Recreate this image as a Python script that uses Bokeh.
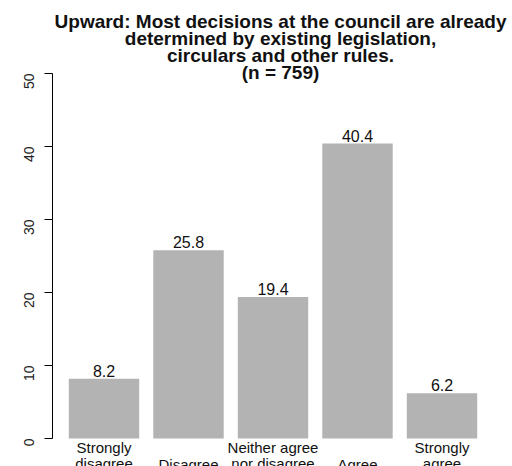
import math
from bokeh.plotting import figure
from bokeh.models import Range1d, Label, FixedTicker, ColumnDataSource
from bokeh.core.properties import value
from bokeh.embed import file_html
from bokeh.resources import INLINE

categories = ["Strongly\ndisagree", "Disagree", "Neither agree\nnor disagree", "Agree", "Strongly\nagree"]
percentages = [8.2, 25.8, 19.4, 40.4, 6.2]
value_labels = ["8.2", "25.8", "19.4", "40.4", "6.2"]
y_ticks = [0, 10, 20, 30, 40, 50]
title_lines = [
    "Upward: Most decisions at the council are already",
    "determined by existing legislation,",
    "circulars and other rules.",
    "(n = 759)",
]

FONT = "Liberation Sans"
W, H = 512, 466
LEFT = 52
PX_PER_BAR = 84.5          # spacing between bar centres (pixels)
FIRST_CENTER = 103.5       # pixel position of the first bar centre
x_start = (LEFT - FIRST_CENTER) / PX_PER_BAR
x_end = x_start + (W - LEFT) / PX_PER_BAR

p = figure(width=W, height=H, output_backend="svg", toolbar_location=None,
           x_axis_location=None,
           x_range=Range1d(x_start, x_end),
           y_range=Range1d(-(H - 438) / 7.3, 50 + 73 / 7.3),
           min_border_left=LEFT, min_border_right=0, min_border_top=0, min_border_bottom=0)
p.xgrid.visible = False
p.ygrid.visible = False
p.outline_line_color = None
p.background_fill_color = "white"
p.border_fill_color = "white"

yax = p.yaxis[0]
yax.ticker = FixedTicker(ticks=y_ticks)
yax.bounds = (0, 50)
yax.axis_line_color = "black"
yax.major_tick_line_color = "black"
yax.major_tick_out = 8
yax.major_tick_in = 0
yax.minor_tick_line_color = None
yax.major_label_orientation = math.pi / 2
yax.major_label_standoff = 16
yax.major_label_text_font = FONT
yax.major_label_text_font_size = "14px"
yax.major_label_text_color = "#222222"

src = ColumnDataSource(dict(pos=list(range(len(categories))), cat=categories,
                            val=percentages, lab=value_labels,
                            zero=[0] * len(categories)))

p.vbar(x="pos", top="val", width=1 / 1.2, source=src, fill_color="#B3B3B3", line_color=None)

p.text(x="pos", y="val", text="lab", source=src, text_align="center",
       text_baseline="bottom", y_offset=-2, text_font=value(FONT),
       text_font_size="16px", text_color="#111111")

p.text(x="pos", y="zero", text="cat", source=src, text_align="center",
       text_baseline="bottom", y_offset=34, text_font=value(FONT),
       text_font_size="15px", text_color="#111111", text_line_height=0.95)

centers = [20.5, 37.5, 54.5, 72]
for line, c in zip(title_lines, centers):
    p.add_layout(Label(x=280 - LEFT, y=H - c, x_units="screen", y_units="screen",
                       text=line, text_align="center", text_baseline="middle",
                       text_font=FONT, text_font_size="19px", text_font_style="bold",
                       text_color="#111111"))

open("out.html", "w").write(file_html(p, INLINE))
